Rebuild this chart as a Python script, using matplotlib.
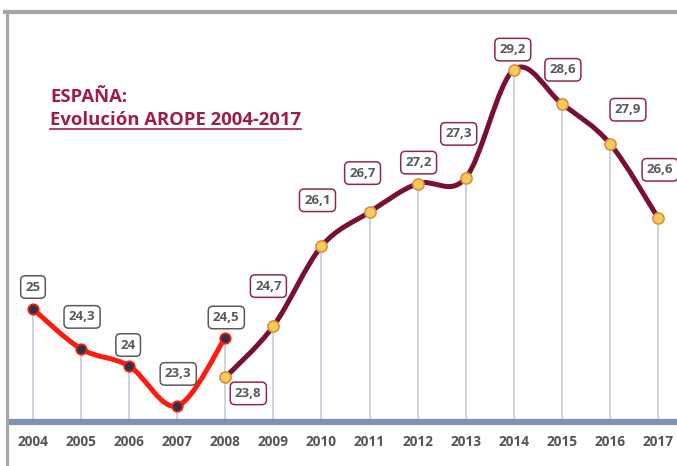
import numpy as np
import matplotlib
matplotlib.use("Agg")
import matplotlib.pyplot as plt
from matplotlib.path import Path
from matplotlib.patches import PathPatch
from matplotlib.lines import Line2D

plt.rcParams['font.family'] = ['Open Sans', 'DejaVu Sans']

# =========================================================
# datos AROPE
# =========================================================
anios = list(range(2004, 2018))
anios_antes = [2004, 2005, 2006, 2007, 2008]
arope_antes = [25, 24.3, 24, 23.3, 24.5]
anios_despues = [2008, 2009, 2010, 2011, 2012, 2013, 2014, 2015, 2016, 2017]
arope_despues = [23.8, 24.7, 26.1, 26.7, 27.2, 27.3, 29.2, 28.6, 27.9, 26.6]

# desplazamiento de las etiquetas (pixeles)
off_antes = [(0, 22), (1, 32), (-1, 21), (1, 32), (1, 20)]
off_despues = [(23, -16), (-5, 40), (-4, 46), (-7, 39), (1, 21),
               (-7, 44), (-1, 20), (1, 34), (18, 34), (2, 48)]

W, H = 677, 466
PX_UNIDAD = 57.0
Y25 = 309.0


def px_a_valor(py):
    return 25 - (py - Y25) / PX_UNIDAD


def curva(xs, ys):
    # linea suavizada tipo Excel (Catmull-Rom con Bezier)
    pts = np.column_stack([xs, ys]).astype(float)
    verts = [pts[0]]
    codes = [Path.MOVETO]
    for i in range(len(pts) - 1):
        p0 = pts[i - 1] if i > 0 else pts[i]
        p1 = pts[i]
        p2 = pts[i + 1]
        p3 = pts[i + 2] if i + 2 < len(pts) else pts[i + 1]
        verts += [p1 + (p2 - p0) / 6, p2 - (p3 - p1) / 6, p2]
        codes += [Path.CURVE4] * 3
    return Path(verts, codes)


def etiqueta(v):
    return ("%g" % v).replace(".", ",")


fig = plt.figure(figsize=(W / 100, H / 100), dpi=100)
ax = fig.add_axes([0, 0, 1, 1])
ax.set_xlim(2004 - 33 / 48.08, 2004 - 33 / 48.08 + W / 48.08)
ax.set_ylim(px_a_valor(H), px_a_valor(0))
ax.axis('off')

base = px_a_valor(422)

# lineas verticales
ax.vlines(anios_antes[:-1], base, arope_antes[:-1], color='#c9d1dd', lw=1.3, zorder=1)
ax.vlines(anios_despues, base, [max(a, b) for a, b in
                                zip(arope_despues, [arope_antes[-1]] + [0] * 9)],
          color='#c9d1dd', lw=1.3, zorder=1)

# eje
ax.axhline(base, xmin=10 / W, xmax=1, color='#7f94b0', lw=4.5, zorder=2)

# curvas
ax.add_patch(PathPatch(curva(anios_antes, arope_antes), fill=False,
                       edgecolor='#ff1a10', lw=3.6, capstyle='round', zorder=3))
ax.add_patch(PathPatch(curva(anios_despues, arope_despues), fill=False,
                       edgecolor='#7a0f35', lw=3.6, capstyle='round', zorder=3))

ax.plot(anios_antes, arope_antes, 'o', ms=7.5, mfc='#2b3345', mec='#ff1a10',
        mew=1.3, zorder=4)
ax.plot(anios_despues, arope_despues, 'o', ms=8, mfc='#f8c95c', mec='#d9923a',
        mew=1.2, zorder=4)

# etiquetas de valores
for x, v, o in zip(anios_antes, arope_antes, off_antes):
    ax.annotate(etiqueta(v), (x, v), xytext=o, textcoords='offset pixels',
                ha='center', va='center', fontsize=9.5, fontweight='bold',
                color='#595959', zorder=5,
                bbox=dict(boxstyle='round,pad=0.36,rounding_size=0.35',
                          fc='white', ec='#5a5a5a', lw=1.1))
for x, v, o in zip(anios_despues, arope_despues, off_despues):
    ax.annotate(etiqueta(v), (x, v), xytext=o, textcoords='offset pixels',
                ha='center', va='center', fontsize=9.5, fontweight='bold',
                color='#595959', zorder=5,
                bbox=dict(boxstyle='round,pad=0.36,rounding_size=0.35',
                          fc='white', ec='#8c2a52', lw=1.1))

# anios
for a in anios:
    ax.text(a, px_a_valor(442), str(a), ha='center', va='center',
            fontsize=9.8, fontweight='bold', color='#555555')

# marco gris
fig.add_artist(Line2D([6.5 / W, 6.5 / W], [0, 1 - 12 / H],
                      transform=fig.transFigure, color='#a6a6a6', lw=2.3))
fig.add_artist(Line2D([5 / W, 1], [1 - 12 / H, 1 - 12 / H],
                      transform=fig.transFigure, color='#a6a6a6', lw=3))

# titulo
rojo_titulo = '#9e1c4a'
fig.text(50 / W, 1 - 102 / H, "ESPAÑA:", fontsize=13.3, fontweight='bold',
         color=rojo_titulo, va='baseline')
t2 = fig.text(50 / W, 1 - 125 / H, "Evolución AROPE 2004-2017", fontsize=13.3,
              fontweight='bold', color=rojo_titulo, va='baseline')
fig.canvas.draw()
bb = t2.get_window_extent()
fig.add_artist(Line2D([bb.x0 / W, bb.x1 / W], [1 - 129 / H, 1 - 129 / H],
                      transform=fig.transFigure, color=rojo_titulo, lw=1.2))

fig.savefig('out.png', dpi=100)
